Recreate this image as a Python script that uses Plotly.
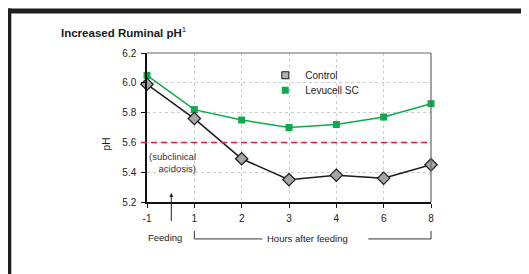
import plotly.graph_objects as go

hours = ['-1', '1', '2', '3', '4', '6', '8']
control_ph = [5.99, 5.76, 5.49, 5.35, 5.38, 5.36, 5.45]
levucell_ph = [6.05, 5.82, 5.75, 5.70, 5.72, 5.77, 5.86]
y_ticks = [5.2, 5.4, 5.6, 5.8, 6.0, 6.2]
acidosis_threshold = 5.6

FONT = "Liberation Sans, Arial, sans-serif"
GREEN = "#0bab4b"

# page body has an 8px margin: figure occupies 8..529 x 8..274 of the window
OFF = 8
W, H = 529 - OFF, 274 - OFF
# desired plot-area edges in window pixels
PL, PR, PT, PB = 146.7, 430.7, 52.7, 202.0
L, R, T, B = PL - OFF, (529 - PR), PT - OFF, (274 - PB)
pw, ph = PR - PL, PB - PT


def px_x(p):
    return (p - PL) / pw


def px_y(p):
    return (PB - p) / ph


fig = go.Figure()
fig.add_trace(go.Scatter(
    x=hours, y=levucell_ph, mode='lines+markers', showlegend=False,
    line=dict(color=GREEN, width=1.5),
    marker=dict(symbol='square', size=7, color=GREEN),
    cliponaxis=False))
fig.add_trace(go.Scatter(
    x=hours, y=control_ph, mode='lines+markers', showlegend=False,
    line=dict(color='#1a1a1a', width=1.5),
    marker=dict(symbol='diamond', size=9.5, color='#a6a6a6', line=dict(color='#1a1a1a', width=1.2)),
    cliponaxis=False))
# legend entries
fig.add_trace(go.Scatter(x=[None], y=[None], mode='markers', name='Control', legend='legend',
                         marker=dict(symbol='square', size=7, color='#b0b0b0',
                                     line=dict(color='#1a1a1a', width=1))))
fig.add_trace(go.Scatter(x=[None], y=[None], mode='markers', name='Levucell SC', legend='legend2',
                         marker=dict(symbol='square', size=7, color=GREEN)))

shapes = []
# threshold line
shapes.append(dict(type='line', xref='paper', yref='y', x0=px_x(140.7), x1=1,
                   y0=acidosis_threshold, y1=acidosis_threshold,
                   line=dict(color='#e8194f', width=1.5, dash='6px,4px')))
# top / right frame of plot
shapes.append(dict(type='line', xref='paper', yref='paper', x0=0, x1=1, y0=1, y1=1,
                   line=dict(color='#666666', width=1.2)))
shapes.append(dict(type='line', xref='paper', yref='paper', x0=1, x1=1, y0=0, y1=1,
                   line=dict(color='#666666', width=1.2)))
# bracket
x1 = 1 / 6
yb = px_y(239)
yt = px_y(231)
bc = dict(color='#333333', width=1)
shapes.append(dict(type='line', xref='paper', yref='paper', x0=x1, x1=x1, y0=yt, y1=yb, line=bc))
shapes.append(dict(type='line', xref='paper', yref='paper', x0=x1, x1=px_x(262), y0=yb, y1=yb, line=bc))
shapes.append(dict(type='line', xref='paper', yref='paper', x0=px_x(368), x1=1, y0=yb, y1=yb, line=bc))
shapes.append(dict(type='line', xref='paper', yref='paper', x0=1, x1=1, y0=yt, y1=yb, line=bc))
# outer frame (thick dark bars top and left)
shapes.append(dict(type='rect', xref='paper', yref='paper', x0=px_x(5), x1=px_x(540),
                   y0=px_y(13), y1=px_y(8), fillcolor='#1f1f1f', line=dict(width=0)))
shapes.append(dict(type='rect', xref='paper', yref='paper', x0=px_x(5), x1=px_x(11),
                   y0=px_y(290), y1=px_y(8), fillcolor='#1f1f1f', line=dict(width=0)))

annotations = [
    dict(text='<b>Increased Ruminal pH</b><sup>1</sup>', xref='paper', yref='paper',
         x=px_x(59), y=px_y(32), xanchor='left', yanchor='middle', showarrow=False,
         font=dict(family=FONT, size=11.5, color='#1a1a1a')),
    dict(text='pH', xref='paper', yref='paper', x=px_x(106), y=px_y(144), textangle=-90,
         xanchor='center', yanchor='middle',
         showarrow=False, font=dict(family=FONT, size=10, color='#222222')),
    dict(text='(subclinical<br>acidosis)', xref='paper', yref='paper', align='right',
         x=px_x(198), y=px_y(162.5), xanchor='right', yanchor='middle', showarrow=False,
         font=dict(family=FONT, size=9.5, color='#333333')),
    dict(text=' ', xref='paper', yref='paper', x=px_x(171), y=px_y(193),
         ax=0, ay=35, showarrow=True, arrowhead=2, arrowsize=0.8, arrowwidth=1,
         arrowcolor='#222222'),
    dict(text='Feeding', xref='paper', yref='paper', x=px_x(165), y=px_y(237.5),
         xanchor='center', yanchor='middle',
         showarrow=False, font=dict(family=FONT, size=9.5, color='#222222')),
    dict(text='Hours after feeding', xref='paper', yref='paper', x=px_x(307), y=px_y(238.5),
         xanchor='center', yanchor='middle',
         showarrow=False, font=dict(family=FONT, size=9.5, color='#222222')),
]

legend_common = dict(xanchor='left', yanchor='middle', bgcolor='rgba(0,0,0,0)',
                     font=dict(family=FONT, size=10, color='#222222'),
                     itemwidth=30, borderwidth=0)

fig.update_layout(
    width=W, height=H,
    margin=dict(l=L, r=R, t=T, b=B, pad=0),
    paper_bgcolor='white', plot_bgcolor='white',
    font=dict(family=FONT, size=10, color='#222222'),
    shapes=shapes, annotations=annotations,
    legend=dict(x=px_x(265), y=px_y(75), **legend_common),
    legend2=dict(x=px_x(265), y=px_y(90), **legend_common),
    showlegend=True,
)
fig.update_xaxes(type='category', categoryorder='array', categoryarray=hours,
                 range=[0, 6], showline=True, linecolor='#111111', linewidth=1.5,
                 ticks='outside', ticklen=4, tickcolor='#111111', ticklabelstandoff=2,
                 showgrid=True, gridcolor='#cccccc', griddash='3px,3px', gridwidth=1,
                 zeroline=False, tickfont=dict(family=FONT, size=10))
fig.update_yaxes(range=[5.2, 6.2], tickvals=y_ticks, ticktext=[f'{v:.1f}' for v in y_ticks],
                 showline=True, linecolor='#111111', linewidth=1.5,
                 ticks='outside', ticklen=4, tickcolor='#111111', ticklabelstandoff=3,
                 showgrid=True, gridcolor='#cccccc', griddash='3px,3px', gridwidth=1,
                 zeroline=False, tickfont=dict(family=FONT, size=10))

fig.write_html('out.html')
